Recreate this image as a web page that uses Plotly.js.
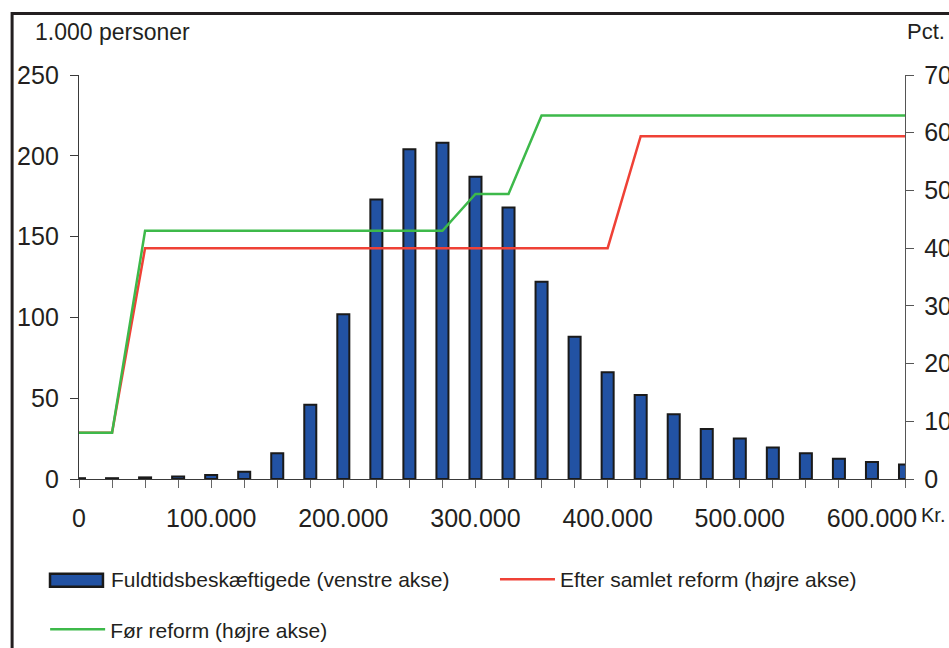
<!DOCTYPE html>
<html>
<head>
<meta charset="utf-8">
<script src="https://cdn.plot.ly/plotly-3.0.1.min.js"></script>
<style>
  html, body { margin: 0; padding: 0; background: #ffffff; }
  #chart { width: 949px; height: 648px; }
</style>
</head>
<body>
<div id="chart"></div>
<script>
// Income brackets (kr.), one bar every 25.000 kr.
const incomeKr = [0, 25000, 50000, 75000, 100000, 125000, 150000, 175000, 200000,
  225000, 250000, 275000, 300000, 325000, 350000, 375000, 400000, 425000,
  450000, 475000, 500000, 525000, 550000, 575000, 600000, 625000];

// Full-time employed, 1.000 persons (left axis)
const employed = [0.5, 0.5, 1, 1.5, 2.5, 4.5, 16, 46, 102, 173, 204, 208, 187, 168,
  122, 88, 66, 52, 40, 31, 25, 19.5, 16, 12.5, 10.5, 9];

// Marginal tax rate before the reform, pct. (right axis)
const beforeX = [0, 25000, 50000, 275000, 300000, 325000, 350000, 625000];
const beforePct = [8, 8, 43, 43, 49.4, 49.4, 63, 63];

// Marginal tax rate after the full reform, pct. (right axis)
const afterX = [0, 25000, 50000, 400000, 425000, 625000];
const afterPct = [8, 8, 40, 40, 59.4, 59.4];

const seriesNames = [
  'Fuldtidsbeskæftigede (venstre akse)',
  'Efter samlet reform (højre akse)',
  'Før reform (højre akse)'
];

const ink = '#231f20';
const font = 'Liberation Sans, Arial, sans-serif';
const barFill = '#2252a3';
const barEdge = '#1a1a1a';

const traces = [
  {
    type: 'bar', name: seriesNames[0], x: incomeKr, y: employed,
    width: 9100, yaxis: 'y', showlegend: false,
    marker: { color: barFill, line: { color: barEdge, width: 2 } },
    hoverinfo: 'x+y'
  },
  {
    type: 'scatter', mode: 'lines', name: seriesNames[1], x: afterX, y: afterPct,
    yaxis: 'y2', legend: 'legend3',
    line: { color: '#ef4136', width: 2.5 }
  },
  {
    type: 'scatter', mode: 'lines', name: seriesNames[2], x: beforeX, y: beforePct,
    yaxis: 'y2', legend: 'legend2',
    line: { color: '#3db94a', width: 2.5 }
  }
];

const legendFont = { size: 21, color: ink, family: font };

const layout = {
  width: 949, height: 648,
  margin: { l: 79, r: 44, t: 75, b: 169, autoexpand: false },
  paper_bgcolor: '#ffffff', plot_bgcolor: '#ffffff',
  separators: ',.',
  font: { family: font, color: ink, size: 25 },
  xaxis: {
    range: [0, 625000], dtick: 100000, tick0: 0, tickformat: ',d',
    showgrid: false, zeroline: false,
    showline: true, linecolor: '#3a3a3a', linewidth: 1.2,
    ticks: 'outside', ticklen: 8, tickcolor: '#666', tickwidth: 1,
    ticklabelstandoff: 9,
    minor: { dtick: 25000, tick0: 0, ticks: 'outside', ticklen: 8, tickcolor: '#666', tickwidth: 1 },
    tickfont: { size: 25, color: ink }
  },
  yaxis: {
    range: [0, 250], dtick: 50, showgrid: false, zeroline: false,
    showline: true, linecolor: '#3a3a3a', linewidth: 1.2,
    ticks: 'outside', ticklen: 8, tickcolor: '#3a3a3a',
    ticklabelstandoff: 6,
    tickfont: { size: 25, color: ink }
  },
  yaxis2: {
    range: [0, 70], dtick: 10, overlaying: 'y', side: 'right', anchor: 'x',
    showgrid: false, zeroline: false,
    showline: true, linecolor: '#555', linewidth: 1.2,
    ticks: 'outside', ticklen: 8, tickcolor: '#555',
    ticklabelstandoff: 5,
    tickfont: { size: 25, color: ink }
  },
  legend2: {
    orientation: 'h', x: -0.041, xanchor: 'left', y: -0.373, yanchor: 'middle',
    itemwidth: 55, font: legendFont, bgcolor: 'rgba(0,0,0,0)'
  },
  legend3: {
    orientation: 'h', x: 0.5036, xanchor: 'left', y: -0.249, yanchor: 'middle',
    itemwidth: 55, font: legendFont, bgcolor: 'rgba(0,0,0,0)'
  },
  annotations: [
    { text: '1.000 personer', xref: 'paper', yref: 'paper', x: -0.0557, y: 1.107,
      xanchor: 'left', yanchor: 'middle', showarrow: false, font: { size: 23, color: ink } },
    { text: 'Pct.', xref: 'paper', yref: 'paper', x: 1.0, y: 1.107,
      xanchor: 'left', yanchor: 'middle', showarrow: false, font: { size: 22, color: ink } },
    { text: 'Kr.', xref: 'paper', yref: 'paper', x: 1.017, y: -0.088,
      xanchor: 'left', yanchor: 'middle', showarrow: false, font: { size: 20, color: ink } },
    // legend label for the bar series (wide swatch drawn as a shape below)
    { text: seriesNames[0], xref: 'paper', yref: 'paper', x: 0.0365, y: -0.249,
      xanchor: 'left', yanchor: 'middle', showarrow: false, font: legendFont }
  ],
  shapes: [
    // legend swatch for the bar series
    { type: 'rect', xref: 'paper', yref: 'paper', x0: -0.0351, x1: 0.0290, y0: -0.2666, y1: -0.2344,
      line: { color: barEdge, width: 2.5 }, fillcolor: barFill, layer: 'above' },
    // outer frame around the whole figure
    { type: 'rect', xref: 'paper', yref: 'paper', x0: -0.081, x1: 1.12, y0: -0.5, y1: 1.152,
      line: { color: ink, width: 3 }, fillcolor: 'rgba(0,0,0,0)', layer: 'above' }
  ]
};

Plotly.newPlot('chart', traces, layout, { displayModeBar: false, staticPlot: true });
</script>
</body>
</html>
